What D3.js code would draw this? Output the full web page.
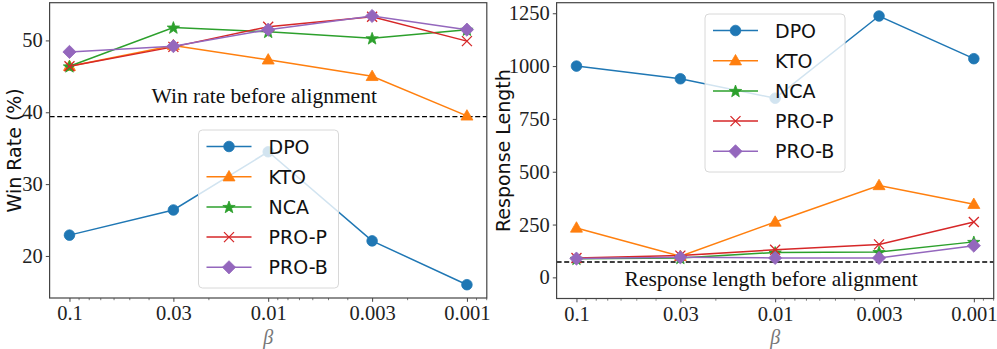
<!DOCTYPE html>
<html>
<head>
<meta charset="utf-8">
<script src="https://cdn.jsdelivr.net/npm/d3@7"></script>
<style>
  body { margin: 0; background: #fff; }
  svg { display: block; }
</style>
</head>
<body>
<div id="chart"></div>
<script>
// data
const betas = [0.1, 0.03, 0.01, 0.003, 0.001];
const betaLabels = ['0.1', '0.03', '0.01', '0.003', '0.001'];
const methods = ['DPO', 'KTO', 'NCA', 'PRO-P', 'PRO-B'];
const colors = ['#1f77b4', '#ff7f0e', '#2ca02c', '#d62728', '#9467bd'];
const markers = ['circle', 'triangle', 'star', 'x', 'diamond'];

const winDPO = [22.9, 26.4, 34.5, 22.1, 16.0];
const winKTO = [46.4, 49.3, 47.3, 45.0, 39.5];
const winNCA = [46.4, 51.8, 51.2, 50.3, 51.5];
const winPROP = [46.4, 49.1, 51.9, 53.3, 49.9];
const winPROB = [48.4, 49.2, 51.5, 53.4, 51.5];
const winBaseline = 39.4;
const winTicks = [20, 30, 40, 50];

const lenDPO = [1000, 940, 848, 1237, 1035];
const lenKTO = [234, 100, 262, 435, 346];
const lenNCA = [88, 92, 118, 120, 168];
const lenPROP = [92, 103, 131, 156, 262];
const lenPROB = [89, 95, 92, 92, 150];
const lenBaseline = 73;
const lenTicks = [0, 250, 500, 750, 1000, 1250];

const W = 997, H = 349;
const serif = "'Liberation Serif', 'DejaVu Serif', serif";
const sans = "'DejaVu Sans', sans-serif";

const svg = d3.select('#chart').append('svg')
  .attr('width', W)
  .attr('height', H);

// marker path for each style
function markerPath(kind) {
  if (kind === 'circle') return d3.symbol(d3.symbolCircle, Math.PI * 5.3 * 5.3)();
  if (kind === 'triangle') return 'M0,-6.2L6,4.2L-6,4.2Z';
  if (kind === 'star') {
    let p = [];
    for (let i = 0; i < 10; i++) {
      const r = i % 2 === 0 ? 6.5 : 2.7;
      const a = -Math.PI / 2 + i * Math.PI / 5;
      p.push([r * Math.cos(a), r * Math.sin(a) + 0.6]);
    }
    return 'M' + p.map((q) => q.join(',')).join('L') + 'Z';
  }
  if (kind === 'x') return 'M-5,-5L5,5M-5,5L5,-5';
  if (kind === 'diamond') return 'M0,-6.6L6.6,0L0,6.6L-6.6,0Z';
}

function drawMarker(g, kind, color, x, y) {
  const m = g.append('path')
    .attr('d', markerPath(kind))
    .attr('transform', `translate(${x},${y})`);
  if (kind === 'x') {
    m.attr('fill', 'none').attr('stroke', color).attr('stroke-width', 1.3);
  } else {
    m.attr('fill', color).attr('stroke', color).attr('stroke-width', 0.8);
  }
}

function panel(opts) {
  const { x0, x1, y0, y1, yDomain, yTicks, series, baseline, note, noteY, ylabel, ylabelX, legendX, legendY } = opts;

  const xScale = d3.scaleLog()
    .domain([0.1 * Math.pow(10, 0.1), 0.001 * Math.pow(10, -0.1)])
    .range([x0, x1]);
  const yScale = d3.scaleLinear().domain(yDomain).range([y1, y0]);

  const g = svg.append('g');

  // minor ticks
  const minors = [];
  for (let e = -4; e <= 0; e++) {
    for (let k = 2; k <= 9; k++) {
      const v = k * Math.pow(10, e);
      const [a, b] = xScale.domain();
      if (v <= a && v >= b && !betas.some((t) => Math.abs(t - v) < 1e-9)) minors.push(v);
    }
  }
  const minorAxis = g.append('g')
    .attr('transform', `translate(0,${y1})`)
    .call(d3.axisBottom(xScale).tickValues(minors).tickSize(2.2).tickFormat(''));
  minorAxis.select('.domain').remove();
  minorAxis.selectAll('line').attr('stroke', '#444').attr('stroke-width', 0.7);

  const xAxis = g.append('g')
    .attr('transform', `translate(0,${y1})`)
    .call(d3.axisBottom(xScale).tickValues(betas).tickSize(3.8).tickPadding(4)
      .tickFormat((d, i) => betaLabels[i]));
  xAxis.select('.domain').remove();
  xAxis.selectAll('line').attr('stroke', '#444').attr('stroke-width', 1);
  xAxis.selectAll('text')
    .attr('font-family', serif).attr('font-size', 20.5).attr('fill', '#222');

  const yAxis = g.append('g')
    .attr('transform', `translate(${x0},0)`)
    .call(d3.axisLeft(yScale).tickValues(yTicks).tickSize(3.8).tickPadding(3)
      .tickFormat(d3.format('d')));
  yAxis.select('.domain').remove();
  yAxis.selectAll('line').attr('stroke', '#444').attr('stroke-width', 1);
  yAxis.selectAll('text')
    .attr('font-family', serif).attr('font-size', 20.5).attr('fill', '#222');

  // baseline
  g.append('line')
    .attr('x1', x0).attr('x2', x1)
    .attr('y1', yScale(baseline)).attr('y2', yScale(baseline))
    .attr('stroke', '#000').attr('stroke-width', 1.4)
    .attr('stroke-dasharray', '5,2.6');

  g.append('text')
    .attr('x', xScale(0.01) - 4)
    .attr('y', noteY)
    .attr('text-anchor', 'middle')
    .attr('font-family', serif)
    .attr('font-size', 21.5)
    .attr('fill', '#111')
    .text(note);

  // lines and markers
  series.forEach((vals, i) => {
    const line = d3.line()
      .x((d, j) => xScale(betas[j]))
      .y((d) => yScale(d));
    g.append('path')
      .datum(vals)
      .attr('d', line)
      .attr('fill', 'none')
      .attr('stroke', colors[i])
      .attr('stroke-width', 1.5);
    vals.forEach((v, j) => drawMarker(g, markers[i], colors[i], xScale(betas[j]), yScale(v)));
  });

  // frame
  g.append('rect')
    .attr('x', x0).attr('y', y0)
    .attr('width', x1 - x0).attr('height', y1 - y0)
    .attr('fill', 'none')
    .attr('stroke', '#444')
    .attr('stroke-width', 1.2);

  // axis labels
  g.append('text')
    .attr('transform', `translate(${ylabelX},${(y0 + y1) / 2}) rotate(-90)`)
    .attr('text-anchor', 'middle')
    .attr('font-family', sans)
    .attr('font-size', 19)
    .attr('fill', '#111')
    .text(ylabel);

  g.append('text')
    .attr('x', xScale(0.01))
    .attr('y', 344)
    .attr('text-anchor', 'middle')
    .attr('font-family', serif)
    .attr('font-style', 'italic')
    .attr('font-size', 20)
    .attr('fill', '#777')
    .text('β');

  // legend
  const lg = g.append('g').attr('transform', `translate(${legendX},${legendY})`);
  lg.append('rect')
    .attr('x', 0).attr('y', 0)
    .attr('width', 140).attr('height', 158)
    .attr('rx', 4)
    .attr('fill', '#fff').attr('fill-opacity', 0.8)
    .attr('stroke', '#d8d8d8').attr('stroke-width', 1);
  methods.forEach((name, i) => {
    const yy = 16.5 + i * 30.2;
    lg.append('line')
      .attr('x1', 8).attr('x2', 53)
      .attr('y1', yy).attr('y2', yy)
      .attr('stroke', colors[i]).attr('stroke-width', 1.5);
    drawMarker(lg, markers[i], colors[i], 30.5, yy);
    lg.append('text')
      .attr('x', 70)
      .attr('y', yy + 7)
      .attr('font-family', sans)
      .attr('font-size', 19)
      .attr('fill', '#111')
      .text(name);
  });
}

panel({
  x0: 49.6, x1: 486.8, y0: 2.7, y1: 298,
  yDomain: [14.15, 55.25], yTicks: winTicks,
  series: [winDPO, winKTO, winNCA, winPROP, winPROB],
  baseline: winBaseline, note: 'Win rate before alignment', noteY: 103,
  ylabel: 'Win Rate (%)', ylabelX: 21,
  legendX: 198.5, legendY: 130
});

panel({
  x0: 556.6, x1: 993.7, y0: 2.7, y1: 298.5,
  yDomain: [-100, 1300], yTicks: lenTicks,
  series: [lenDPO, lenKTO, lenNCA, lenPROP, lenPROB],
  baseline: lenBaseline, note: 'Response length before alignment', noteY: 286,
  ylabel: 'Response Length', ylabelX: 510,
  legendX: 705, legendY: 14
});
</script>
</body>
</html>
